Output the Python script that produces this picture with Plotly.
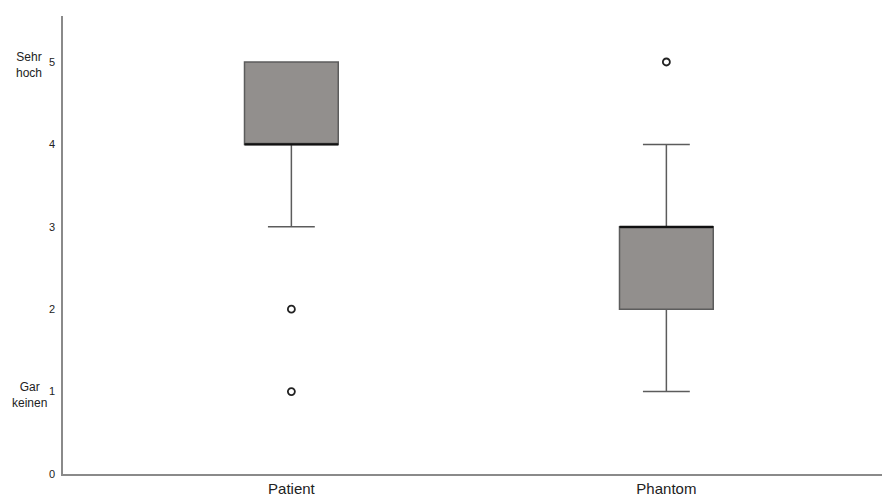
import plotly.graph_objects as go

categories = ["Patient", "Phantom"]
q1 = [4, 2]
median = [4, 3]
q3 = [5, 3]
lower_fence = [3, 1]
upper_fence = [5, 4]
outlier_cat = ["Patient", "Patient", "Phantom"]
outlier_val = [2, 1, 5]
y_tick_vals = [0, 1, 2, 3, 4, 5]
y_tick_text = ["0", "1", "2", "3", "4", "5"]
end_labels = {5: "Sehr<br>hoch", 1: "Gar<br>keinen"}

xpos = list(range(len(categories)))
cat_index = {c: i for i, c in enumerate(categories)}

fig = go.Figure()
fig.add_trace(go.Box(
    x=xpos, q1=q1, median=median, q3=q3,
    lowerfence=lower_fence, upperfence=upper_fence,
    width=0.25, whiskerwidth=0.5,
    fillcolor="#928f8d",
    line=dict(color="#5c5c5c", width=1.5),
    boxpoints=False, showlegend=False, hoverinfo="skip",
))
# thicker black median line
fig.add_trace(go.Box(
    x=xpos, q1=median, median=median, q3=median,
    lowerfence=median, upperfence=median,
    width=0.25, whiskerwidth=0,
    fillcolor="rgba(0,0,0,0)",
    line=dict(color="#111111", width=2.2),
    boxpoints=False, showlegend=False, hoverinfo="skip",
))
fig.add_trace(go.Scatter(
    x=[cat_index[c] for c in outlier_cat], y=outlier_val,
    mode="markers",
    marker=dict(symbol="circle-open", size=7, color="#222222", line=dict(width=1.8)),
    showlegend=False, hoverinfo="skip",
))

for val, txt in end_labels.items():
    fig.add_annotation(
        x=-0.0415, xref="paper", y=val, yref="y",
        text=txt, showarrow=False, xanchor="center", yanchor="middle",
        align="center", yshift=-3,
        font=dict(family="Liberation Sans, Arial, sans-serif", size=12, color="#222222"),
    )

fig.update_layout(
    width=882, height=497,
    margin=dict(l=63, r=0, t=16, b=23, autoexpand=False),
    paper_bgcolor="white", plot_bgcolor="white",
    boxmode="overlay",
    font=dict(family="Liberation Sans, Arial, sans-serif", color="#222222"),
    xaxis=dict(
        range=[-0.609, 1.575],
        tickvals=xpos, ticktext=categories,
        showgrid=False, zeroline=False,
        showline=True, linecolor="#8a8a8a", linewidth=1.5,
        ticks="", tickfont=dict(size=15, color="#222222"),
        ticklabelstandoff=0,
        automargin=False, fixedrange=True,
    ),
    yaxis=dict(
        range=[0, 5.558],
        tickvals=y_tick_vals, ticktext=y_tick_text,
        showgrid=False, zeroline=False,
        showline=True, linecolor="#8a8a8a", linewidth=1.5,
        ticks="", tickfont=dict(size=11, color="#222222"),
        ticklabelstandoff=4,
        automargin=False, fixedrange=True,
    ),
)

fig.write_html(
    "out.html",
    config={"displayModeBar": False},
    post_script="document.body.style.margin='0';document.body.style.overflow='hidden';",
)
